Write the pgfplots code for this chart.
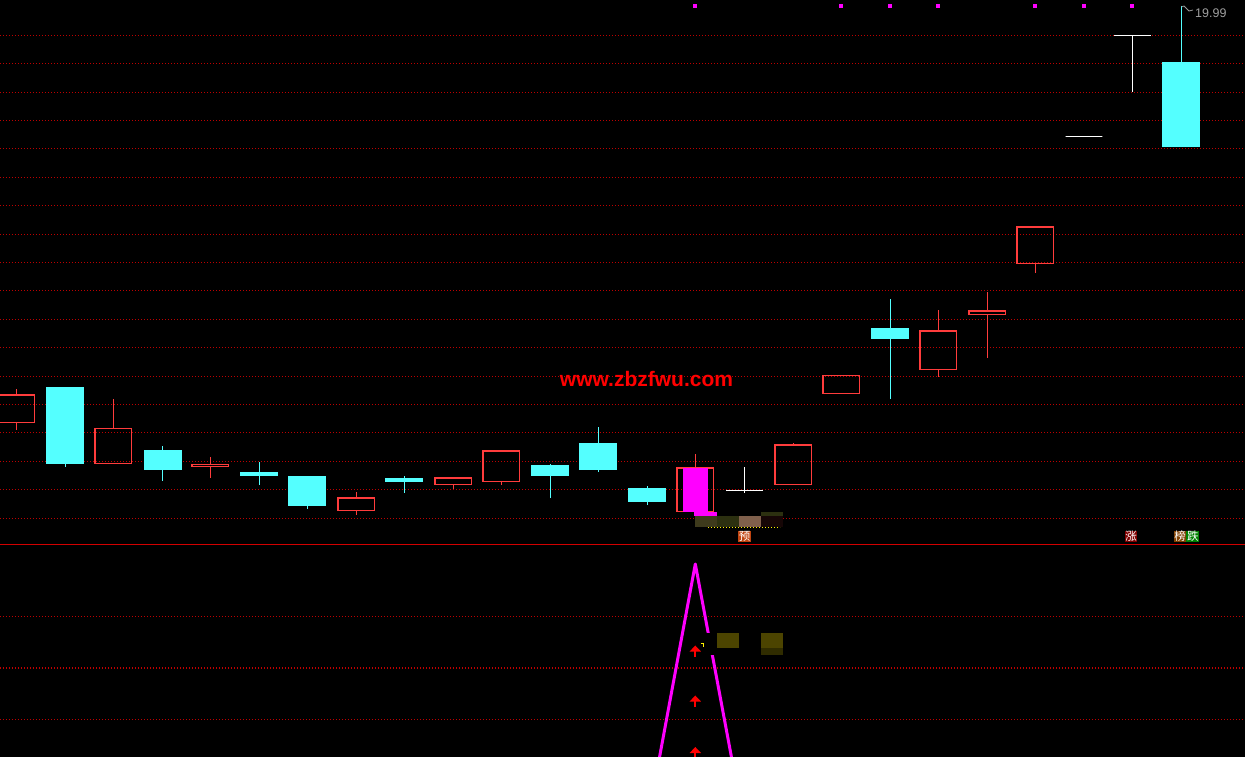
\documentclass[border=0pt]{standalone}
\usepackage{fontspec}
\setmainfont{Liberation Sans}
\newfontfamily\cjk{Noto Sans CJK SC}
\usepackage{pgfplots}
\pgfplotsset{compat=1.18}
\usepgfplotslibrary{statistics}
\usetikzlibrary{arrows.meta}

\definecolor{upred}{RGB}{255,60,60}
\definecolor{dncyan}{RGB}{84,255,255}
\definecolor{gridred}{RGB}{190,0,0}
\definecolor{sepred}{RGB}{210,0,0}
\definecolor{mag}{RGB}{255,0,255}
\definecolor{olive1}{RGB}{62,58,28}
\definecolor{olive2}{RGB}{44,48,16}
\definecolor{brownbox}{RGB}{128,96,76}
\definecolor{darkbox}{RGB}{22,6,6}
\definecolor{oliveb}{RGB}{76,68,0}
\definecolor{olivec}{RGB}{48,44,0}

% candle: center x, body top, body bottom, high, low, style (pixel rows)
\newcommand\candle[6]{%
  \addplot[#6, boxplot prepared={draw direction=y, draw position=#1,
      lower whisker=#4, lower quartile=#2, median=#2,
      upper quartile=#3, upper whisker=#5,
      box extend=36.6, whisker extend=0}] coordinates {};}
\newcommand\gl[1]{\addplot[gridred, line width=1.1pt, dash pattern=on 1pt off 2pt]
  coordinates {(0,#1) (1245,#1)};}
\newcommand\rect[5]{\addplot[fill=#5, draw=none]
  coordinates {(#1,#2) (#3,#2) (#3,#4) (#1,#4)} --cycle;}

\begin{document}
\begin{tikzpicture}
\begin{axis}[
    scale only axis, width=1245pt, height=757pt,
    xmin=0, xmax=1245, ymin=0, ymax=757, y dir=reverse,
    hide axis, clip=true,
    up/.style={draw=upred, line width=1.3pt},
    dn/.style={draw=dncyan, fill=dncyan, line width=1.2pt},
    wt/.style={draw=white, line width=1.3pt},
  ]
  \rect{0}{0}{1245}{757}{black}

  % dotted grid, price panel and indicator panel
  \gl{35.3}\gl{63.7}\gl{92.1}\gl{120.5}\gl{148.9}\gl{177.3}
  \gl{205.7}\gl{234.1}\gl{262.5}\gl{290.9}\gl{319.3}\gl{347.7}
  \gl{376.1}\gl{404.5}\gl{432.9}\gl{461.3}\gl{489.7}\gl{518.3}
  \gl{616.3}\gl{668.0}\gl{719.3}
  \addplot[sepred, line width=1.2pt] coordinates {(0,544.3) (1245,544.3)};

  \candle{16.3}{395}{422.3}{389}{430}{up}
  \candle{65.3}{388}{463.7}{388}{466.7}{dn}
  \candle{113.3}{428.3}{463.3}{399}{463.3}{up}
  \candle{162.7}{451}{469.7}{446}{480.7}{dn}
  \candle{210.3}{464.3}{466.3}{457}{477.7}{up}
  \candle{259.3}{473}{475.7}{462}{484.7}{dn}
  \candle{307.3}{477}{505.7}{476}{508.7}{dn}
  \candle{356.3}{498}{510.7}{492}{514.7}{up}
  \candle{404.3}{479}{481}{476}{492.7}{dn}
  \candle{453.3}{478}{484.7}{478}{489}{up}
  \candle{501.3}{451}{481.7}{450}{484.7}{up}
  \candle{550.3}{466}{475}{464}{498}{dn}
  \candle{598.3}{444}{469}{427}{472}{dn}
  \candle{647.3}{489}{501}{486}{505}{dn}
  \candle{695.3}{468}{511.7}{454}{511.7}{up}
  \candle{744.3}{490.3}{490.3}{467}{492.7}{wt}
  \candle{793.3}{445}{484.3}{443}{484.3}{up}
  \candle{841.3}{375.3}{393.7}{375.3}{393.7}{up}
  \candle{890.3}{329}{338.7}{299}{398.7}{dn}
  \candle{938.3}{331}{369.7}{310}{376.7}{up}
  \candle{987.3}{311}{314.7}{292}{357.7}{up}
  \candle{1035.3}{227}{263.7}{227}{272.7}{up}
  \candle{1084}{136.3}{136.3}{136.3}{136.3}{wt}
  \candle{1132.3}{35.3}{35.3}{35.3}{92}{wt}
  \candle{1181.3}{63}{146}{6}{146}{dn}

  % overlay boxes around the signal day
  \rect{683}{468}{708}{511.7}{mag}
  \rect{694}{512}{717}{516}{mag}
  \rect{695}{516}{717}{527}{olive1}
  \rect{717}{516}{739}{527}{olive2}
  \rect{739}{516}{761}{527}{brownbox}
  \rect{761}{516}{783}{527}{darkbox}
  \rect{761}{512}{783}{516}{olive2}
  \addplot[yellow, line width=1pt, dash pattern=on 1pt off 2pt]
    coordinates {(708,527.3) (780,527.3)};

  % top markers
  \addplot[only marks, mark=square*, mark size=1.5pt, color=mag]
    coordinates {(694.3,5.3) (840.3,5.3) (889.3,5.3) (937.3,5.3)
                 (1034.3,5.3) (1083.3,5.3) (1131.3,5.3)};
  \addplot[gray!80, line width=0.8pt]
    coordinates {(1181.5,7) (1184,6) (1186,8) (1189,11) (1193,10)};

  % indicator panel
  \addplot[mag, line width=3pt, line join=round] coordinates {(659,760) (695.3,564) (732,760)};
  \rect{705}{632.7}{716.7}{655}{black}
  \rect{716}{648}{790}{655}{black}
  \rect{717}{633}{739}{648}{oliveb}
  \rect{761}{633}{783}{648}{oliveb}
  \rect{761}{648}{783}{655}{olivec}
  \addplot[yellow, line width=1pt] coordinates {(700.5,643) (703,643) (703,647)};
  \addplot[red, line width=2.2pt, quiver={u=0, v=-11},
           -{Triangle[width=11pt, length=6pt]}]
    coordinates {(695.3,656.5) (695.3,706.5) (695.3,758)};

  % text
  \node[text=red, font=\bfseries\fontsize{21}{22}\selectfont]
    at (axis cs:646.5,379) {www.zbzfwu.com};
  \node[anchor=west, text=gray!75, font=\fontsize{12.5}{13}\selectfont, inner sep=0pt]
    at (axis cs:1195,13) {19.99};
  \node[fill=red!50!black, text=white, font=\cjk\fontsize{11.5}{12}\selectfont,
        inner sep=0.6pt] at (axis cs:1131,536.5) {涨};
  \node[fill={rgb,255:red,192;green,68;blue,16}, text=white,
        font=\cjk\fontsize{11.5}{12}\selectfont, inner sep=0.6pt]
    at (axis cs:744.5,536.5) {预};
  \node[fill={rgb,255:red,128;green,64;blue,0}, text=white,
        font=\cjk\fontsize{11.5}{12}\selectfont, inner sep=0.6pt]
    at (axis cs:1180,536.5) {榜};
  \node[fill={rgb,255:red,0;green,128;blue,0}, text=white,
        font=\cjk\fontsize{11.5}{12}\selectfont, inner sep=0.6pt]
    at (axis cs:1192.8,536.5) {跌};
\end{axis}
\end{tikzpicture}
\end{document}
